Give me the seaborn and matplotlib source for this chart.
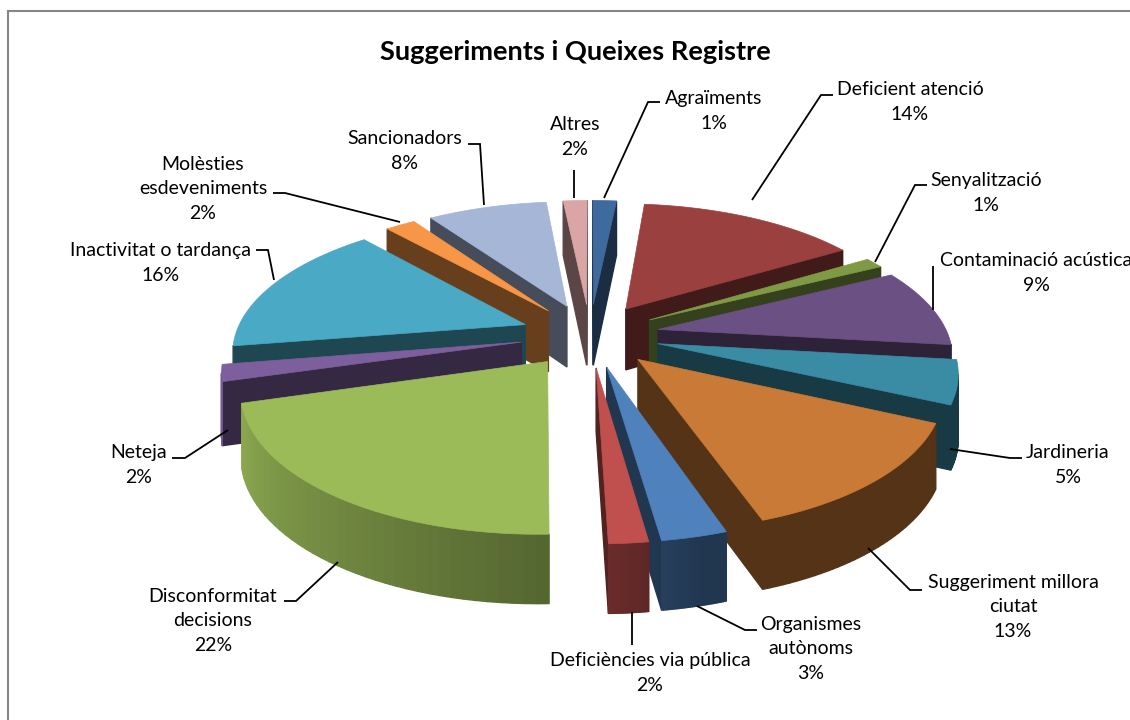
import numpy as np
import matplotlib
matplotlib.use("Agg")
import matplotlib.pyplot as plt
import seaborn as sns

# estimated shares
names = ["Agraïments", "Deficient atenció", "Senyalització", "Contaminació acústica", "Jardineria",
         "Suggeriment millora\nciutat", "Organismes\nautònoms", "Deficiències via pública",
         "Disconformitat\ndecisions", "Neteja", "Inactivitat o tardança", "Molèsties\nesdeveniments",
         "Sancionadors", "Altres"]
shares = [1.5, 14.0, 1.2, 9.0, 5.0, 13.0, 3.0, 1.8, 22.0, 2.0, 16.0, 2.0, 8.0, 1.6]
pct_labels = [1, 14, 1, 9, 5, 13, 3, 2, 22, 2, 16, 2, 8, 2]
top_colors = ["#3e6a9e", "#9a403e", "#7f9a45", "#6a5083", "#3a8ba4", "#c87a36", "#4f81bd",
              "#c0504d", "#9bbb59", "#7d5f9d", "#4aa9c4", "#f79646", "#a6b6d6", "#d9a6a5"]

# layout, in pixels of the 1130x720 picture
text_pos = [(714, 111), (910, 102), (986, 193), (1036, 273), (1068, 465), (1013, 607), (811, 649),
            (650, 673), (213, 621), (139, 465), (161, 263), (203, 189), (405, 151), (575, 137)]
leaders = [[(604, 198), (648, 102), (660, 102)],
           [(752, 200), (821, 95), (833, 95)],
           [(875, 262), (915, 185), (927, 185)],
           [(933, 310), (933, 266)],
           [(950, 449), (1010, 458), (1022, 458)],
           [(868, 548), (910, 590), (922, 590)],
           [(697, 606), (745, 630), (757, 630)],
           [(632, 612), (632, 645)],
           [(338, 562), (296, 601), (284, 601)],
           [(228, 430), (185, 458), (172, 458)],
           [(274, 280), (268, 250), (256, 250)],
           [(400, 222), (285, 193), (273, 193)],
           [(484, 205), (480, 144), (468, 144)],
           [(574, 198), (574, 170)]]

CX, CY = 590, 335
RX, RY = 290, 132
PERSP = 0.175
EXPLODE = 0.24
DEPTH = 62
SKEW = 0.08  # the 3d view turns the right half of the pie a little

sns.set_theme(style="white")
plt.rcParams["font.family"] = ["Lato", "DejaVu Sans"]
palette = sns.color_palette(top_colors)


def project(u, v):
    s = 1 / (1 - PERSP * v)
    return CX + RX * u * s, CY + RY * v * s


def drop(v):
    return DEPTH * (1 + 0.1 * v)


def darker(col, f):
    return tuple(min(1, c * f) for c in col)


fig = plt.figure(figsize=(11.3, 7.2), dpi=100, facecolor="white")
ax = fig.add_axes([0, 0, 1, 1])
ax.set_xlim(0, 1130)
ax.set_ylim(720, 0)
ax.axis("off")

edges = np.cumsum([0] + shares) / sum(shares) * 2 * np.pi
edges = edges + SKEW * np.clip(np.sin(0.7 * edges), 0, None)
mids = (edges[:-1] + edges[1:]) / 2

# back slices first
for i in np.argsort(-np.cos(mids)):
    a0, a1, mid = edges[i], edges[i + 1], mids[i]
    off_u, off_v = EXPLODE * np.sin(mid), -EXPLODE * np.cos(mid)
    th = np.linspace(a0, a1, 40)
    us = np.r_[off_u, off_u + np.sin(th)]
    vs = np.r_[off_v, off_v - np.cos(th)]
    xs, ys = project(us, vs)
    col = palette[i]

    quads = []
    n = len(xs)
    for k in range(n):
        j = (k + 1) % n
        if xs[j] - xs[k] >= 0:
            continue
        is_arc = k > 0 and k < n - 1
        if is_arc:
            ang = np.degrees(th[k - 1])
            f = np.interp(ang, [0, 165, 178, 254, 360], [0.42, 0.42, 0.55, 0.92, 0.6])
        else:
            f = 0.42
        quads.append(((ys[k] + ys[j]) / 2,
                      [xs[k], xs[j], xs[j], xs[k]],
                      [ys[k], ys[j], ys[j] + drop(vs[j]), ys[k] + drop(vs[k])],
                      darker(col, f)))
    for _, qx, qy, c in sorted(quads, key=lambda q: q[0]):
        ax.fill(qx, qy, color=c, lw=1)
    ax.fill(xs, ys, color=col, lw=0.5)

for line in leaders:
    ax.plot(*zip(*line), color="black", lw=1.3, solid_capstyle="butt", solid_joinstyle="miter")

for name, pct, (tx, ty) in zip(names, pct_labels, text_pos):
    ax.text(tx, ty, f"{name}\n{pct}%", ha="center", va="center", fontsize=14, color="black",
            linespacing=1.55, clip_on=True)

ax.text(575, 52, "Suggeriments i Queixes Registre", ha="center", va="center", fontsize=19.6,
        fontweight="bold", color="black")

# chart frame runs off the picture on the right and bottom
ax.plot([7.5, 7.5, 1130], [720, 10.5, 10.5], color="#868686", lw=1.5, solid_joinstyle="miter")

fig.savefig("out.png", dpi=100)
